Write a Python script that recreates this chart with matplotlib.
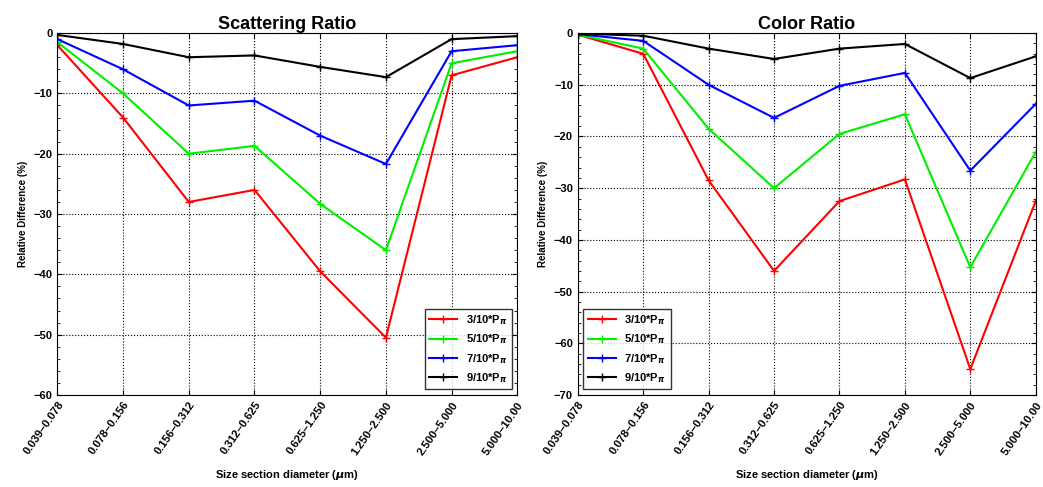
import numpy as np
import matplotlib.pyplot as plt

plt.rcParams['font.family'] = ['Liberation Sans', 'DejaVu Sans']
plt.rcParams['font.weight'] = 'bold'

sizes = ['0.039\u20130.078', '0.078\u20130.156', '0.156\u20130.312', '0.312\u20130.625',
         '0.625\u20131.250', '1.250\u20132.500', '2.500\u20135.000', '5.000\u201310.00']
labels = ['3/10*P$_\\pi$', '5/10*P$_\\pi$', '7/10*P$_\\pi$', '9/10*P$_\\pi$']
colors = ['#ff0000', '#00ee00', '#0000ff', '#000000']

scat_30 = [-2, -14, -28, -26, -39.5, -50.5, -7, -4]
scat_50 = [-1.5, -10, -20, -18.7, -28.3, -36, -5, -3]
scat_70 = [-1, -6, -12, -11.2, -17, -21.7, -3, -2]
scat_90 = [-0.3, -1.8, -4, -3.7, -5.6, -7.3, -1, -0.5]

col_30 = [-0.3, -4, -28.5, -46, -32.5, -28.3, -65, -32.5]
col_50 = [-0.3, -3, -18.5, -30, -19.5, -15.7, -45.3, -23]
col_70 = [-0.2, -1.5, -10, -16.4, -10.2, -7.7, -26.6, -13.7]
col_90 = [-0.1, -0.5, -3, -5, -3, -2.1, -8.7, -4.5]

fig = plt.figure(figsize=(10.43, 4.87), dpi=100)
ax1 = fig.add_axes([0.055, 0.189, 0.441, 0.743])
ax2 = fig.add_axes([0.554, 0.189, 0.439, 0.743])
axes = [ax1, ax2]
panels = [('Scattering Ratio', [scat_30, scat_50, scat_70, scat_90], -60),
          ('Color Ratio', [col_30, col_50, col_70, col_90], -70)]
x = np.arange(len(sizes))

for ax, (title, series, ymin) in zip(axes, panels):
    for s, c, l in zip(series, colors, labels):
        ax.plot(x, s, color=c, marker='+', markersize=6, lw=1.5, label=l)
    ax.set_title(title, fontsize=13, fontweight='bold', pad=3)
    ax.set_xlim(0, len(sizes) - 1)
    ax.set_ylim(ymin, 0)
    ax.set_xticks(x)
    ax.set_xticklabels(sizes, rotation=55, ha='right', rotation_mode='anchor', fontsize=8)
    ax.set_yticks(np.arange(ymin, 1, 10))
    ax.set_yticks(np.arange(ymin, 1, 2), minor=True)
    ax.tick_params(direction='in', top=True, right=True, labelsize=8, which='both')
    ax.grid(True, linestyle=':', color='black', lw=0.8)
    ax.set_ylabel('Relative Difference (%)', fontsize=7, fontweight='bold')
    ax.set_xlabel('Size section diameter ($\\mu$m)', fontsize=8, fontweight='bold', labelpad=8)

ax1.legend(loc='lower right', fontsize=8, frameon=True, fancybox=False,
           edgecolor='black', handlelength=2.5)
ax2.legend(loc='lower left', fontsize=8, frameon=True, fancybox=False,
           edgecolor='black', handlelength=2.5)

plt.savefig('out.png')
